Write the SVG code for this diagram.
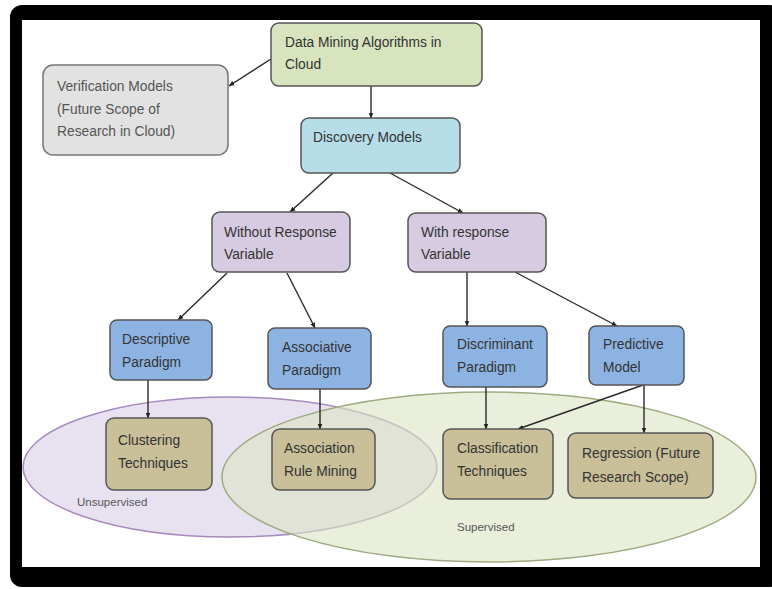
<svg xmlns="http://www.w3.org/2000/svg" width="772" height="589" viewBox="0 0 772 589">
  <defs>
    <marker id="arrow" viewBox="0 0 10 10" refX="9" refY="5" markerWidth="6" markerHeight="6" orient="auto-start-reverse" markerUnits="userSpaceOnUse">
      <path d="M0,1 L10,5 L0,9 z" fill="#222"/>
    </marker>
    <style>
      .node rect { stroke: #555; stroke-width: 1.5; }
      .lbl { font-family: "Liberation Sans", Arial, sans-serif; font-size: 13.8px; fill: #333; }
      .small { font-family: "Liberation Sans", Arial, sans-serif; font-size: 11.5px; fill: #555; }
      .edge { stroke: #2a2a2a; stroke-width: 1.4; fill: none; marker-end: url(#arrow); }
      .green { fill: #d7e4bd; }
      .grey { fill: #e2e2e2; stroke: #777 !important; }
      .cyan { fill: #b7dde8; }
      .purple { fill: #d6cbe0; }
      .blue { fill: #8db3e2; }
      .tan { fill: #c9bf98; }
    </style>
  </defs>

  <!-- frame -->
  <rect x="10" y="5" width="772" height="582" rx="12" fill="#000"/>
  <rect x="22" y="20" width="738" height="547" fill="#fff"/>

  <!-- groupings -->
  <g id="regions">
    <ellipse cx="230" cy="467" rx="207" ry="70" fill="#e8e2f0" stroke="#a78bbd" stroke-width="1.5"/>
    <ellipse cx="489" cy="477" rx="267" ry="85" fill="#dbe5c3" fill-opacity="0.6" stroke="#9eab82" stroke-width="1.5"/>
    <text class="small" x="77" y="506">Unsupervised</text>
    <text class="small" x="457" y="531">Supervised</text>
  </g>

  <!-- connectors -->
  <g id="connectors">
    <line class="edge" x1="271" y1="59" x2="229" y2="86"/>
    <line class="edge" x1="371" y1="86" x2="371" y2="118"/>
    <line class="edge" x1="333" y1="173" x2="290" y2="212"/>
    <line class="edge" x1="390" y1="173" x2="463" y2="213"/>
    <line class="edge" x1="227" y1="273" x2="178" y2="320"/>
    <line class="edge" x1="287" y1="273" x2="315" y2="328"/>
    <line class="edge" x1="467" y1="272" x2="467" y2="326"/>
    <line class="edge" x1="515" y1="272" x2="617" y2="326"/>
    <line class="edge" x1="148" y1="380" x2="148" y2="418"/>
    <line class="edge" x1="320" y1="389" x2="320" y2="429"/>
    <line class="edge" x1="486" y1="387" x2="486" y2="429"/>
    <line class="edge" x1="643" y1="385" x2="518" y2="429"/>
    <line class="edge" x1="644" y1="385" x2="644" y2="433"/>
  </g>

  <!-- nodes -->
  <g id="data-mining" class="node">
    <rect class="green" x="271" y="23" width="211" height="63" rx="8"/>
    <text class="lbl" x="285" y="47">Data Mining Algorithms in</text>
    <text class="lbl" x="285" y="69">Cloud</text>
  </g>
  <g id="verification" class="node">
    <rect class="grey" x="43" y="65" width="185" height="90" rx="10"/>
    <text class="lbl" x="57" y="91" style="fill:#555">Verification Models</text>
    <text class="lbl" x="57" y="114" style="fill:#555">(Future Scope of</text>
    <text class="lbl" x="57" y="136" style="fill:#555">Research in Cloud)</text>
  </g>
  <g id="discovery" class="node">
    <rect class="cyan" x="301" y="118" width="159" height="55" rx="8"/>
    <text class="lbl" x="313" y="142">Discovery Models</text>
  </g>
  <g id="without-response" class="node">
    <rect class="purple" x="212" y="212" width="138" height="60" rx="8"/>
    <text class="lbl" x="224" y="237">Without Response</text>
    <text class="lbl" x="224" y="259">Variable</text>
  </g>
  <g id="with-response" class="node">
    <rect class="purple" x="408" y="213" width="138" height="59" rx="8"/>
    <text class="lbl" x="421" y="237">With response</text>
    <text class="lbl" x="421" y="259">Variable</text>
  </g>
  <g id="descriptive" class="node">
    <rect class="blue" x="110" y="320" width="102" height="60" rx="7"/>
    <text class="lbl" x="122" y="344">Descriptive</text>
    <text class="lbl" x="122" y="367">Paradigm</text>
  </g>
  <g id="associative" class="node">
    <rect class="blue" x="268" y="328" width="103" height="61" rx="7"/>
    <text class="lbl" x="282" y="352">Associative</text>
    <text class="lbl" x="282" y="375">Paradigm</text>
  </g>
  <g id="discriminant" class="node">
    <rect class="blue" x="443" y="326" width="104" height="61" rx="7"/>
    <text class="lbl" x="457" y="349">Discriminant</text>
    <text class="lbl" x="457" y="372">Paradigm</text>
  </g>
  <g id="predictive" class="node">
    <rect class="blue" x="589" y="326" width="95" height="59" rx="7"/>
    <text class="lbl" x="603" y="349">Predictive</text>
    <text class="lbl" x="603" y="372">Model</text>
  </g>
  <g id="clustering" class="node">
    <rect class="tan" x="106" y="418" width="106" height="72" rx="8"/>
    <text class="lbl" x="118" y="445">Clustering</text>
    <text class="lbl" x="118" y="468">Techniques</text>
  </g>
  <g id="association" class="node">
    <rect class="tan" x="272" y="429" width="103" height="61" rx="8"/>
    <text class="lbl" x="284" y="453">Association</text>
    <text class="lbl" x="284" y="476">Rule Mining</text>
  </g>
  <g id="classification" class="node">
    <rect class="tan" x="443" y="429" width="110" height="70" rx="8"/>
    <text class="lbl" x="457" y="453">Classification</text>
    <text class="lbl" x="457" y="476">Techniques</text>
  </g>
  <g id="regression" class="node">
    <rect class="tan" x="568" y="433" width="145" height="65" rx="8"/>
    <text class="lbl" x="582" y="458">Regression (Future</text>
    <text class="lbl" x="582" y="482">Research Scope)</text>
  </g>
</svg>
